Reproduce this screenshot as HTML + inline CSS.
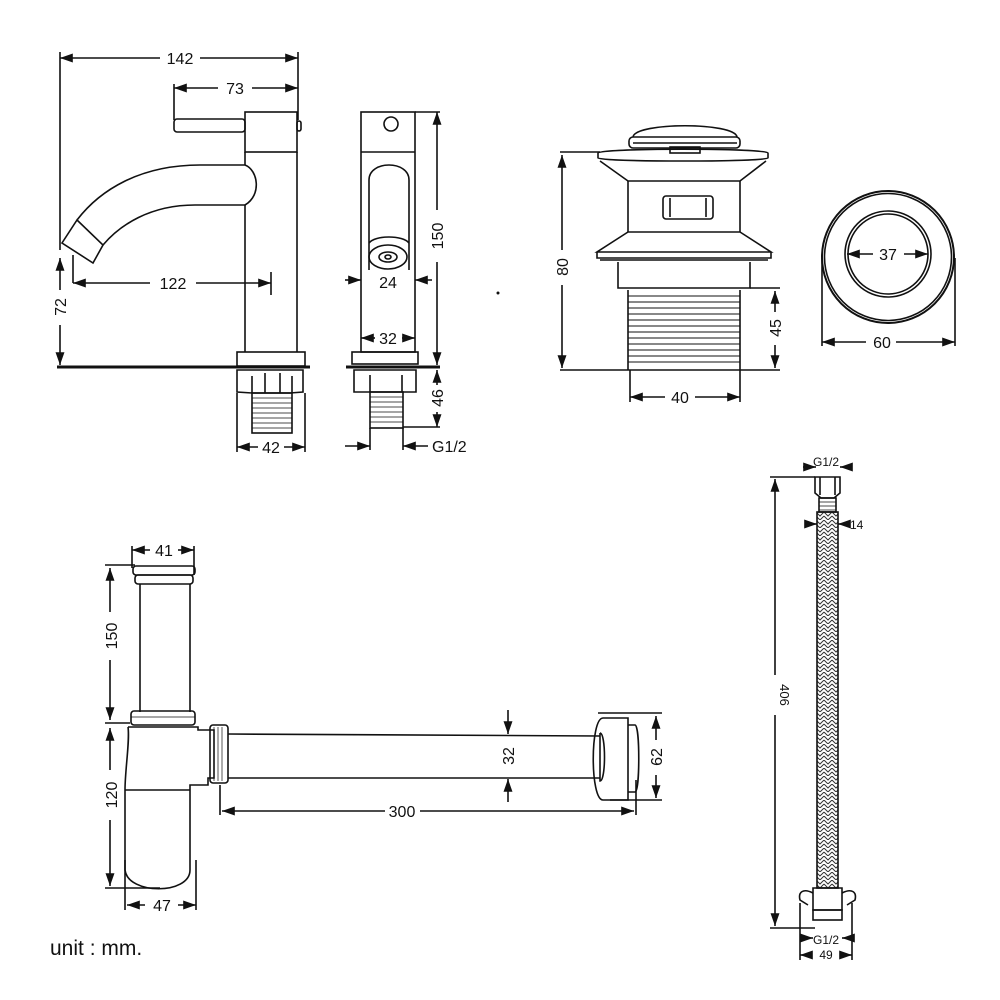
<!DOCTYPE html>
<html><head><meta charset="utf-8"><style>
html,body{margin:0;padding:0;background:#fff}
svg{display:block}
text{font-family:"Liberation Sans",sans-serif;font-size:16px;fill:#111}
</style></head><body>
<svg width="1000" height="1000" viewBox="0 0 1000 1000" xmlns="http://www.w3.org/2000/svg">
<defs>
<marker id="a" viewBox="0 0 10 10" refX="10" refY="5" markerWidth="8" markerHeight="8" orient="auto-start-reverse"><path d="M0,1.5 L10,5 L0,8.5 z" fill="#111"/></marker>
<pattern id="br" width="8" height="8" patternUnits="userSpaceOnUse"><path d="M0,0 L4,4 L8,0 M0,4 L4,8 L8,4" stroke="#333" stroke-width="1" fill="none"/></pattern>
</defs>
<g stroke="#111" stroke-width="1.6" fill="none">
<!-- FAUCET FRONT -->
<line x1="60" y1="58" x2="160" y2="58" marker-start="url(#a)"/><line x1="200" y1="58" x2="298" y2="58" marker-end="url(#a)"/>
<line x1="60" y1="52" x2="60" y2="250"/><line x1="298" y1="52" x2="298" y2="120"/>
<line x1="174" y1="88" x2="218" y2="88" marker-start="url(#a)"/><line x1="252" y1="88" x2="298" y2="88" marker-end="url(#a)"/>
<line x1="174" y1="84" x2="174" y2="120"/>
<rect x="245" y="112" width="52" height="40"/>
<rect x="174" y="119" width="71" height="13" rx="3"/>
<rect x="297" y="121" width="4" height="10" rx="2"/>
<path d="M245,152 L245,165 M297,152 L297,352 M245,205 L245,352"/>
<path d="M245,165 C258,170 262,195 245,205"/>
<path d="M245,165 L200,165 C140,165 100,190 77,220 M245,205 L195,205 C150,205 120,225 103,245"/>
<path d="M77,220 L103,245 L93,263 L62,243 Z" fill="#fff"/>
<line x1="73" y1="283" x2="150" y2="283" marker-start="url(#a)"/><line x1="196" y1="283" x2="271" y2="283" marker-end="url(#a)"/>
<line x1="271" y1="272" x2="271" y2="295"/><line x1="73" y1="255" x2="73" y2="283"/>
<line x1="60" y1="258" x2="60" y2="290" marker-start="url(#a)"/><line x1="60" y1="325" x2="60" y2="365" marker-end="url(#a)"/>
<line x1="57" y1="367" x2="310" y2="367" stroke-width="3"/>
<rect x="237" y="352" width="68" height="14"/>
<path d="M237,370 L303,370 L303,392 L290,393 L252,393 L237,392 Z M252,376 L252,393 M265,373 L265,393 M280,373 L280,393 M292,376 L292,393"/>
<rect x="252" y="393" width="40" height="40"/>
<path d="M252,398 H292 M252,403 H292 M252,408 H292 M252,413 H292 M252,418 H292 M252,423 H292 M252,428 H292" stroke-width="0.8"/>
<line x1="237" y1="393" x2="237" y2="452"/><line x1="305" y1="393" x2="305" y2="452"/>
<line x1="258" y1="447" x2="237" y2="447" marker-end="url(#a)"/><line x1="284" y1="447" x2="305" y2="447" marker-end="url(#a)"/>
<!-- FAUCET SIDE -->
<rect x="361" y="112" width="54" height="240"/>
<line x1="361" y1="152" x2="415" y2="152"/>
<circle cx="391" cy="124" r="7"/>
<path d="M369,270 L369,180 C369,160 409,160 409,180 L409,270"/>
<path d="M369,243 C375,235 403,235 409,243"/>
<ellipse cx="388" cy="257" rx="19" ry="12"/><ellipse cx="388" cy="257" rx="9" ry="5"/><ellipse cx="388" cy="257" rx="3" ry="2"/>
<line x1="345" y1="280" x2="361" y2="280" marker-end="url(#a)"/><line x1="432" y1="280" x2="415" y2="280" marker-end="url(#a)"/>
<line x1="375" y1="338" x2="361" y2="338" marker-end="url(#a)"/><line x1="402" y1="338" x2="415" y2="338" marker-end="url(#a)"/>
<line x1="415" y1="112" x2="440" y2="112"/>
<line x1="437" y1="112" x2="437" y2="210" marker-start="url(#a)"/><line x1="437" y1="262" x2="437" y2="365" marker-end="url(#a)"/>
<rect x="352" y="352" width="66" height="12"/>
<line x1="346" y1="367" x2="440" y2="367" stroke-width="3"/>
<path d="M354,370 L416,370 L416,392 L354,392 Z M370,375 L370,392 M402,375 L402,392"/>
<rect x="370" y="392" width="33" height="36"/>
<path d="M370,397 H403 M370,402 H403 M370,407 H403 M370,412 H403 M370,417 H403 M370,422 H403" stroke-width="0.8"/>
<line x1="437" y1="370" x2="437" y2="385" marker-start="url(#a)"/><line x1="437" y1="412" x2="437" y2="427" marker-end="url(#a)"/>
<line x1="403" y1="427" x2="440" y2="427"/>
<line x1="370" y1="428" x2="370" y2="450"/><line x1="403" y1="428" x2="403" y2="450"/>
<line x1="345" y1="446" x2="370" y2="446" marker-end="url(#a)"/><line x1="428" y1="446" x2="403" y2="446" marker-end="url(#a)"/>
<!-- POP-UP DRAIN -->
<path d="M633,137 C635,122 735,122 737,137"/>
<rect x="629" y="137" width="111" height="11" rx="4"/>
<line x1="633" y1="143" x2="737" y2="143"/>
<rect x="670" y="147" width="30" height="6"/>
<path d="M598,153 C598,148 768,148 768,153 L768,158 C768,162 598,162 598,158 Z"/>
<path d="M600,161 L628,181 L740,181 L766,161"/>
<path d="M628,181 L628,232 M740,181 L740,232"/>
<rect x="663" y="196" width="50" height="23" rx="3"/><path d="M670,198 V217 M706,198 V217"/>
<path d="M628,232 L597,252 L771,252 L740,232 Z"/>
<path d="M597,252 L597,258 L771,258 L771,252"/>
<path d="M600,260 L768,260"/>
<path d="M618,262 L618,288 L750,288 L750,262"/>
<path d="M628,290 L628,370 M740,290 L740,370"/>
<path d="M628,296 H740 M628,302 H740 M628,308 H740 M628,314 H740 M628,320 H740 M628,326 H740 M628,332 H740 M628,338 H740 M628,344 H740 M628,350 H740 M628,356 H740 M628,362 H740" stroke-width="1.1"/>
<line x1="560" y1="152" x2="600" y2="152"/>
<line x1="562" y1="155" x2="562" y2="250" marker-start="url(#a)"/><line x1="562" y1="285" x2="562" y2="368" marker-end="url(#a)"/>
<line x1="560" y1="370" x2="780" y2="370"/>
<line x1="750" y1="288" x2="780" y2="288"/>
<line x1="775" y1="291" x2="775" y2="312" marker-start="url(#a)"/><line x1="775" y1="345" x2="775" y2="368" marker-end="url(#a)"/>
<line x1="630" y1="370" x2="630" y2="402"/><line x1="740" y1="370" x2="740" y2="402"/>
<line x1="665" y1="397" x2="630" y2="397" marker-end="url(#a)"/><line x1="695" y1="397" x2="740" y2="397" marker-end="url(#a)"/>
<circle cx="888" cy="257" r="66" stroke-width="2"/><circle cx="888" cy="257" r="63.5"/>
<circle cx="888" cy="254" r="43"/><circle cx="888" cy="254" r="40"/>
<line x1="873" y1="254" x2="847" y2="254" marker-end="url(#a)"/><line x1="904" y1="254" x2="928" y2="254" marker-end="url(#a)"/>
<line x1="822" y1="258" x2="822" y2="346"/><line x1="955" y1="258" x2="955" y2="346"/>
<line x1="866" y1="342" x2="822" y2="342" marker-end="url(#a)"/><line x1="896" y1="342" x2="955" y2="342" marker-end="url(#a)"/>
<!-- BOTTLE TRAP -->
<line x1="132" y1="546" x2="132" y2="568"/><line x1="194" y1="546" x2="194" y2="575"/>
<line x1="150" y1="550" x2="132" y2="550" marker-end="url(#a)"/><line x1="178" y1="550" x2="194" y2="550" marker-end="url(#a)"/>
<rect x="133" y="566" width="62" height="9" rx="3"/><rect x="135" y="575" width="58" height="9" rx="3"/>
<path d="M140,584 L140,712 M190,584 L190,712"/>
<rect x="131" y="711" width="64" height="14" rx="3"/><path d="M131,717 H195" stroke-width="0.8"/>
<path d="M128,727 L198,727 L198,730 L214,730 L214,778 L208,778 L208,785 L190,785 L190,870 C190,895 128,895 125,870 L125,790 C125,770 130,740 128,727"/>
<path d="M125,790 L190,790"/>
<rect x="210" y="725" width="18" height="58" rx="3"/>
<path d="M214,727 V781 M218,727 V781 M222,727 V781" stroke-width="0.7"/>
<path d="M228,734 L600,736 M228,778 L600,778"/>
<path d="M600,733 L600,781 C606,781 606,733 600,733" />
<path d="M603,718 C590,718 590,800 603,800 L628,800 L628,718 Z"/>
<path d="M628,725 L635,725 C640,725 640,792 635,792 L628,792"/>
<line x1="105" y1="565" x2="135" y2="565"/>
<line x1="110" y1="568" x2="110" y2="612" marker-start="url(#a)"/><line x1="110" y1="660" x2="110" y2="720" marker-end="url(#a)"/>
<line x1="105" y1="723" x2="130" y2="723"/>
<line x1="110" y1="728" x2="110" y2="770" marker-start="url(#a)"/><line x1="110" y1="820" x2="110" y2="886" marker-end="url(#a)"/>
<line x1="105" y1="888" x2="160" y2="888"/>
<line x1="125" y1="860" x2="125" y2="910"/><line x1="196" y1="860" x2="196" y2="910"/>
<line x1="145" y1="905" x2="127" y2="905" marker-end="url(#a)"/><line x1="178" y1="905" x2="196" y2="905" marker-end="url(#a)"/>
<line x1="508" y1="710" x2="508" y2="734" marker-end="url(#a)"/><line x1="508" y1="802" x2="508" y2="779" marker-end="url(#a)"/>
<line x1="598" y1="713" x2="662" y2="713"/><line x1="610" y1="800" x2="662" y2="800"/>
<line x1="656" y1="716" x2="656" y2="740" marker-start="url(#a)"/><line x1="656" y1="775" x2="656" y2="798" marker-end="url(#a)"/>
<line x1="220" y1="785" x2="220" y2="815"/><line x1="636" y1="780" x2="636" y2="815"/>
<line x1="222" y1="811" x2="385" y2="811" marker-start="url(#a)"/><line x1="420" y1="811" x2="634" y2="811" marker-end="url(#a)"/>
<!-- HOSE -->
<line x1="770" y1="477" x2="815" y2="477"/>
<line x1="775" y1="479" x2="775" y2="675" marker-start="url(#a)"/><line x1="775" y1="715" x2="775" y2="926" marker-end="url(#a)"/>
<line x1="770" y1="928" x2="815" y2="928"/>
<path d="M815,477 L840,477 L840,493 L834,498 L821,498 L815,493 Z M820,477 V495 M835,477 V495"/>
<rect x="819" y="498" width="17" height="14"/>
<path d="M819,502 H836 M819,506 H836 M819,510 H836" stroke-width="0.7"/>
<rect x="817" y="512" width="21" height="376" fill="url(#br)"/>
<path d="M813,888 L842,888 L842,910 L813,910 Z"/>
<path d="M813,893 C803,888 798,892 800,900 L808,905 M842,893 C852,888 857,892 855,900 L847,905"/>
<rect x="813" y="910" width="29" height="10"/>
<line x1="803" y1="467" x2="816" y2="467" marker-end="url(#a)"/><line x1="852" y1="467" x2="840" y2="467" marker-end="url(#a)"/>
<line x1="806" y1="524" x2="817" y2="524" marker-end="url(#a)"/><line x1="848" y1="524" x2="838" y2="524" marker-end="url(#a)"/>
<line x1="800" y1="903" x2="800" y2="960"/><line x1="852" y1="903" x2="852" y2="960"/>
<line x1="805" y1="938" x2="813" y2="938" marker-end="url(#a)"/><line x1="848" y1="938" x2="842" y2="938" marker-end="url(#a)"/>
<line x1="812" y1="955" x2="800" y2="955" marker-end="url(#a)"/><line x1="840" y1="955" x2="852" y2="955" marker-end="url(#a)"/>
</g>
<circle cx="498" cy="293" r="1.5" fill="#111"/>
<!-- TEXT -->
<text x="180" y="64" text-anchor="middle">142</text>
<text x="235" y="94" text-anchor="middle">73</text>
<text x="173" y="289" text-anchor="middle">122</text>
<text transform="translate(66,307) rotate(-90)" text-anchor="middle">72</text>
<text x="271" y="453" text-anchor="middle">42</text>
<text x="388" y="288" text-anchor="middle">24</text>
<text x="388" y="344" text-anchor="middle">32</text>
<text transform="translate(443,236) rotate(-90)" text-anchor="middle">150</text>
<text transform="translate(443,398) rotate(-90)" text-anchor="middle">46</text>
<text x="432" y="452">G1/2</text>
<text transform="translate(568,267) rotate(-90)" text-anchor="middle">80</text>
<text transform="translate(781,328) rotate(-90)" text-anchor="middle">45</text>
<text x="680" y="403" text-anchor="middle">40</text>
<text x="888" y="260" text-anchor="middle">37</text>
<text x="882" y="348" text-anchor="middle">60</text>
<text x="164" y="556" text-anchor="middle">41</text>
<text transform="translate(117,636) rotate(-90)" text-anchor="middle">150</text>
<text transform="translate(117,795) rotate(-90)" text-anchor="middle">120</text>
<text x="162" y="911" text-anchor="middle">47</text>
<text transform="translate(514,756) rotate(-90)" text-anchor="middle">32</text>
<text transform="translate(662,757) rotate(-90)" text-anchor="middle">62</text>
<text x="402" y="817" text-anchor="middle">300</text>
<text x="826" y="466" text-anchor="middle" style="font-size:12px">G1/2</text>
<text x="850" y="529" style="font-size:12px">14</text>
<text transform="translate(780,695) rotate(90)" text-anchor="middle" style="font-size:13px">406</text>
<text x="826" y="944" text-anchor="middle" style="font-size:12px">G1/2</text>
<text x="826" y="959" text-anchor="middle" style="font-size:12px">49</text>
<text x="50" y="955" style="font-size:21px">unit : mm.</text>
</svg>
</body></html>
